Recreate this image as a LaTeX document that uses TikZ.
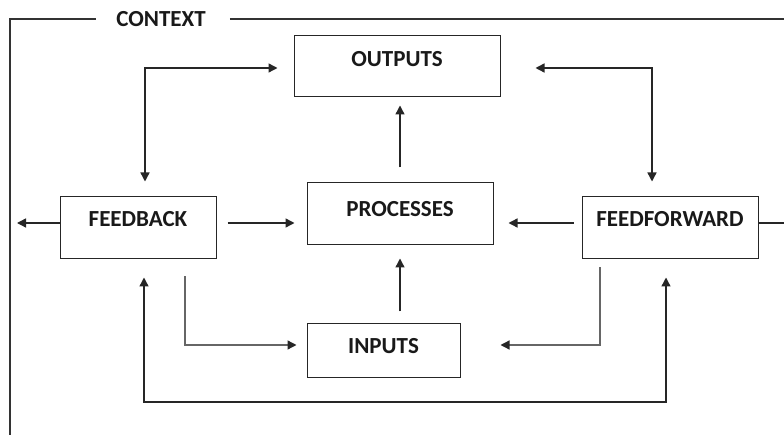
\documentclass[tikz,border=0pt]{standalone}
\usepackage{fontspec}
\setmainfont{Carlito}
\usetikzlibrary{arrows.meta}
\begin{document}
\begin{tikzpicture}[x=1pt,y=-1pt,
  box/.style={draw=black!85,line width=1pt,inner sep=0pt,fill=white},
  lbl/.style={font=\fontsize{23}{26}\selectfont\bfseries,inner sep=0pt,text=black!90},
  arr/.style={line width=1.4pt,draw=black!85,-{Triangle[length=9pt,width=9pt]}},
  darr/.style={line width=1.4pt,draw=black!85,{Triangle[length=9pt,width=9pt]}-{Triangle[length=9pt,width=9pt]}},
  line/.style={line width=1.4pt,draw=black!85},
  softarr/.style={line width=1.3pt,draw=black!60,-{Triangle[length=9pt,width=9pt,color=black!85]}}]
\useasboundingbox (0,0) rectangle (784,435);

% context frame with its title
\node[lbl] (ctx) at (161,19) {CONTEXT};
\coordinate (frameTL) at (10,19);
\coordinate (frameBL) at (10,435);
\coordinate (frameTR) at (784,19);
\draw[line width=1.2pt,draw=black!80] (frameBL) -- (frameTL) -- ([xshift=-20pt]ctx.west |- frameTL);
\draw[line width=1.2pt,draw=black!80] ([xshift=24pt]ctx.east |- frameTL) -- (frameTR);

% boxes
\node[box,minimum width=206pt,minimum height=61pt] (out) at (397,66.5) {};
\node[box,minimum width=186pt,minimum height=62pt] (pro) at (400,214) {};
\node[box,minimum width=156pt,minimum height=62pt] (fb)  at (138,228) {};
\node[box,minimum width=176pt,minimum height=62pt] (ff)  at (670,228) {};
\node[box,minimum width=153pt,minimum height=53pt] (inp) at (383.5,350.5) {};

% box titles
\node[lbl] (tout) at (397,59)  {OUTPUTS};
\node[lbl] (tpro) at (400,209) {PROCESSES};
\node[lbl] (tfb)  at (138,219) {FEEDBACK};
\node[lbl] (tff)  at (670,219) {FEEDFORWARD};
\node[lbl] (tinp) at (383.5,346) {INPUTS};

% helper points
\coordinate (row) at (0,223);
\coordinate (leftend) at (17,223);
\coordinate (rightend) at (784,223);
\coordinate (topleft) at (145,68);
\coordinate (topright) at (652,68);
\coordinate (inrow) at (0,345);
\coordinate (fbdrop) at (185,0);
\coordinate (ffdrop) at (600,0);
\coordinate (loopL) at (144,402);
\coordinate (loopR) at (666,402);

% middle row
\draw[arr] (fb.west |- row) -- (leftend);
\draw[line] (ff.east |- row) -- (rightend);
\draw[arr,shorten <=11pt,shorten >=12pt] (fb.east |- row) -- (pro.west |- row);
\draw[arr,shorten <=8pt,shorten >=15pt] (ff.west |- row) -- (pro.east |- row);

% vertical flow through the middle
\draw[arr,shorten <=15pt,shorten >=8pt] (pro.north -| 400,0) -- (out.south -| 400,0);
\draw[arr,shorten <=12pt,shorten >=13pt] (inp.north -| 400,0) -- (pro.south -| 400,0);

% upper loops
\draw[darr,shorten <=15pt,shorten >=16pt] (fb.north -| topleft) -- (topleft) -- (out.west |- topleft);
\draw[darr,shorten <=35pt,shorten >=15pt] (out.east |- topright) -- (topright) -- (ff.north -| topright);

% feeds into the inputs
\draw[softarr,shorten <=17pt,shorten >=10pt] (fb.south -| fbdrop) -- (fbdrop |- inrow) -- (inp.west |- inrow);
\draw[softarr,shorten <=8pt,shorten >=40pt] (ff.south -| ffdrop) -- (ffdrop |- inrow) -- (inp.east |- inrow);

% long bottom loop
\draw[darr,shorten <=18pt,shorten >=18pt] (fb.south -| loopL) -- (loopL) -- (loopR) -- (ff.south -| loopR);
\end{tikzpicture}
\end{document}
